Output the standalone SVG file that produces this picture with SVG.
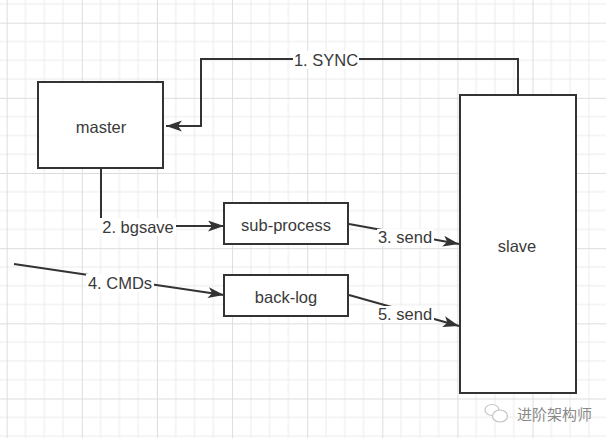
<svg xmlns="http://www.w3.org/2000/svg" width="606" height="438" viewBox="0 0 606 438">
  <style>
    .box { fill: #ffffff; stroke: #333333; stroke-width: 2; }
    .lbl { font-family: "Liberation Sans", Arial, sans-serif; font-size: 16.5px; fill: #3a3a3a; text-anchor: middle; dominant-baseline: central; }
    .edge { fill: none; stroke: #333333; stroke-width: 2; marker-end: url(#arr); }
    .plain { fill: none; stroke: #333333; stroke-width: 2; }
    .bg { fill: #ffffff; }
    .wm { font-family: "Noto Sans CJK SC", sans-serif; font-size: 15px; fill: #8a8a8a; }
  </style>
  <defs>
    <pattern id="grid" x="6.7" y="22.7" width="75.12" height="75.16" patternUnits="userSpaceOnUse">
      <path d="M18.78,0 V75.16 M37.56,0 V75.16 M56.34,0 V75.16 M0,18.79 H75.12 M0,37.58 H75.12 M0,56.37 H75.12" stroke="#ececec" stroke-width="1" fill="none"/>
      <path d="M0.5,0 V75.16 M0,0.5 H75.12" stroke="#dddddd" stroke-width="1" fill="none"/>
    </pattern>
    <marker id="arr" markerUnits="userSpaceOnUse" markerWidth="18" markerHeight="12" refX="16" refY="5.5" orient="auto">
      <path d="M0,0 L16,5.5 L0,11 L4,5.5 Z" fill="#333333"/>
    </marker>
  </defs>

  <rect x="0" y="0" width="606" height="438" fill="#ffffff"/>
  <rect x="0" y="0" width="606" height="438" fill="url(#grid)"/>

  <g id="connectors">
    <path class="edge" d="M518,95 V59 H201 V126 H166"/>
    <rect class="bg" x="293" y="51" width="66" height="18"/>
    <text class="lbl" x="326" y="60">1. SYNC</text>

    <path class="edge" d="M101,168 V226 H224"/>
    <rect class="bg" x="98" y="218" width="78" height="18"/>
    <text class="lbl" x="138" y="227">2. bgsave</text>

    <path class="edge" d="M349,224 L459,244"/>
    <rect class="bg" x="377" y="229" width="57" height="17"/>
    <text class="lbl" x="405" y="237">3. send</text>

    <path class="edge" d="M14,264 L224,295"/>
    <rect class="bg" x="86" y="274" width="68" height="18"/>
    <text class="lbl" x="120" y="283">4. CMDs</text>

    <path class="edge" d="M349,295 L459,326"/>
    <rect class="bg" x="377" y="306" width="57" height="17"/>
    <text class="lbl" x="405" y="314">5. send</text>
  </g>

  <g id="master">
    <rect class="box" x="38" y="82" width="125" height="86"/>
    <text class="lbl" x="101" y="127">master</text>
  </g>

  <g id="sub-process">
    <rect class="box" x="224" y="203" width="124" height="41"/>
    <text class="lbl" x="286" y="225">sub-process</text>
  </g>

  <g id="back-log">
    <rect class="box" x="224" y="275" width="124" height="41"/>
    <text class="lbl" x="286" y="297">back-log</text>
  </g>

  <g id="slave">
    <rect class="box" x="460" y="95" width="116" height="298"/>
    <text class="lbl" x="517" y="246">slave</text>
  </g>

  <g id="watermark">
    <ellipse cx="492" cy="410" rx="7" ry="5.5" fill="#ffffff" stroke="#c4c4c4" stroke-width="1.2"/>
    <ellipse cx="500" cy="416" rx="7.5" ry="6" fill="#ffffff" stroke="#c4c4c4" stroke-width="1.2"/>
    <text class="wm" x="517" y="420">进阶架构师</text>
  </g>
</svg>
